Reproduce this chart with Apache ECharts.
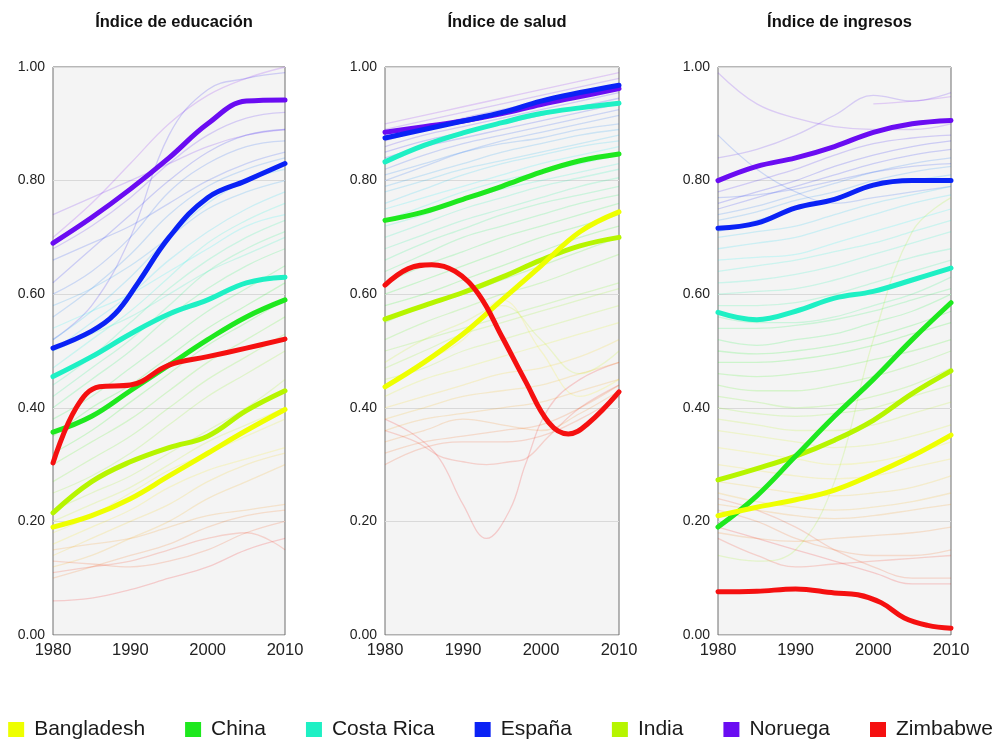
<!DOCTYPE html>
<html>
<head>
<meta charset="utf-8">
<script src="https://cdn.jsdelivr.net/npm/echarts@6/dist/echarts.min.js"></script>
<style>
  html, body { margin: 0; padding: 0; background: #ffffff; }
  #chart { width: 1001px; height: 743px; }
</style>
</head>
<body>
<div id="chart"></div>
<script>
// ---- Panel titles, countries, ticks ----
const panelTitles = ['Índice de educación', 'Índice de salud', 'Índice de ingresos'];
const countries = ['Bangladesh', 'China', 'Costa Rica', 'España', 'India', 'Noruega', 'Zimbabwe'];
const yearTicks = [1980, 1990, 2000, 2010];
const valueTicks = [0, 0.2, 0.4, 0.6, 0.8, 1];

// ---- Highlighted countries: [year, index] ----
// Education
const eduBangladesh = [[1980,0.19],[1985,0.21],[1990,0.24],[1995,0.28],[2000,0.32],[2005,0.36],[2010,0.397]];
const eduChina      = [[1980,0.357],[1985,0.385],[1990,0.43],[1995,0.475],[2000,0.52],[2005,0.56],[2010,0.59]];
const eduCostaRica  = [[1980,0.455],[1985,0.49],[1990,0.53],[1995,0.565],[2000,0.59],[2005,0.62],[2010,0.63]];
const eduEspana     = [[1980,0.505],[1985,0.535],[1988,0.565],[1991,0.62],[1995,0.70],[2000,0.77],[2005,0.80],[2010,0.83]];
const eduIndia      = [[1980,0.215],[1985,0.27],[1990,0.305],[1995,0.33],[2000,0.35],[2005,0.395],[2010,0.43]];
const eduNoruega    = [[1980,0.69],[1985,0.735],[1990,0.785],[1995,0.84],[2000,0.90],[2005,0.94],[2010,0.942]];
const eduZimbabwe   = [[1980,0.303],[1983,0.40],[1986,0.437],[1990,0.44],[1995,0.475],[2000,0.49],[2005,0.505],[2010,0.521]];

// Health
const saludBangladesh = [[1980,0.437],[1985,0.48],[1990,0.53],[1995,0.59],[2000,0.65],[2005,0.71],[2010,0.745]];
const saludChina      = [[1980,0.73],[1985,0.745],[1990,0.767],[1995,0.79],[2000,0.815],[2005,0.835],[2010,0.847]];
const saludCostaRica  = [[1980,0.833],[1985,0.862],[1990,0.884],[1995,0.902],[2000,0.918],[2005,0.928],[2010,0.936]];
const saludEspana     = [[1980,0.875],[1985,0.89],[1990,0.905],[1995,0.92],[2000,0.94],[2005,0.955],[2010,0.968]];
const saludIndia      = [[1980,0.556],[1985,0.58],[1990,0.603],[1995,0.63],[2000,0.66],[2005,0.685],[2010,0.70]];
const saludNoruega    = [[1980,0.885],[1985,0.895],[1990,0.905],[1995,0.918],[2000,0.934],[2005,0.948],[2010,0.962]];
const saludZimbabwe   = [[1980,0.616],[1983,0.645],[1986,0.652],[1989,0.64],[1992,0.60],[1995,0.525],[1998,0.447],[2001,0.374],[2003.5,0.354],[2006,0.372],[2010,0.428]];

// Income
const ingBangladesh = [[1980,0.21],[1985,0.225],[1990,0.238],[1995,0.255],[2000,0.283],[2005,0.315],[2010,0.352]];
const ingChina      = [[1980,0.19],[1985,0.245],[1990,0.315],[1995,0.385],[2000,0.45],[2005,0.52],[2010,0.585]];
const ingCostaRica  = [[1980,0.568],[1985,0.555],[1990,0.57],[1995,0.593],[2000,0.605],[2005,0.625],[2010,0.646]];
const ingEspana     = [[1980,0.716],[1985,0.725],[1990,0.752],[1995,0.767],[2000,0.792],[2005,0.80],[2010,0.80]];
const ingIndia      = [[1980,0.273],[1985,0.293],[1990,0.315],[1995,0.343],[2000,0.378],[2005,0.425],[2010,0.465]];
const ingNoruega    = [[1980,0.80],[1985,0.825],[1990,0.84],[1995,0.86],[2000,0.885],[2005,0.90],[2010,0.906]];
const ingZimbabwe   = [[1980,0.076],[1985,0.077],[1990,0.081],[1995,0.074],[1998,0.071],[2001,0.057],[2004,0.03],[2007,0.017],[2010,0.012]];

// ---- Other countries (faint lines), values at bgYears ----
const bgYears = [1980, 1985, 1990, 1995, 2000, 2005, 2010];

const eduOthers = [
  [0.70,0.76,0.83,0.90,0.95,0.98,1.00],
  [0.52,0.58,0.70,0.88,0.96,0.98,0.99],
  [0.68,0.72,0.77,0.83,0.88,0.91,0.92],
  [0.74,0.77,0.80,0.83,0.86,0.88,0.89],
  [0.62,0.68,0.74,0.80,0.85,0.88,0.89],
  [0.60,0.64,0.70,0.78,0.83,0.86,0.87],
  [0.66,0.69,0.72,0.76,0.80,0.83,0.85],
  [0.56,0.61,0.67,0.74,0.79,0.82,0.84],
  [0.52,0.57,0.63,0.70,0.76,0.80,0.82],
  [0.58,0.61,0.65,0.70,0.75,0.78,0.80],
  [0.50,0.55,0.60,0.66,0.71,0.75,0.78],
  [0.47,0.52,0.57,0.63,0.69,0.73,0.76],
  [0.54,0.57,0.60,0.64,0.68,0.72,0.74],
  [0.44,0.49,0.55,0.61,0.66,0.70,0.73],
  [0.42,0.47,0.52,0.58,0.64,0.68,0.71],
  [0.50,0.53,0.56,0.60,0.64,0.67,0.70],
  [0.40,0.45,0.50,0.56,0.61,0.65,0.68],
  [0.38,0.42,0.47,0.52,0.57,0.61,0.65],
  [0.35,0.40,0.44,0.49,0.54,0.58,0.62],
  [0.32,0.36,0.41,0.46,0.51,0.55,0.59],
  [0.30,0.34,0.38,0.43,0.48,0.52,0.56],
  [0.27,0.31,0.35,0.40,0.45,0.49,0.53],
  [0.25,0.28,0.32,0.37,0.42,0.46,0.50],
  [0.22,0.25,0.28,0.32,0.36,0.40,0.45],
  [0.20,0.23,0.26,0.30,0.34,0.37,0.40],
  [0.18,0.21,0.25,0.29,0.32,0.35,0.38],
  [0.16,0.19,0.22,0.26,0.29,0.31,0.33],
  [0.14,0.17,0.20,0.23,0.27,0.30,0.32],
  [0.12,0.14,0.17,0.20,0.24,0.27,0.30],
  [0.15,0.16,0.17,0.19,0.21,0.22,0.23],
  [0.10,0.12,0.14,0.16,0.19,0.21,0.22],
  [0.13,0.125,0.12,0.13,0.15,0.18,0.20],
  [0.06,0.065,0.08,0.10,0.12,0.15,0.17],
  [0.11,0.12,0.13,0.15,0.17,0.18,0.15]
];

const saludOthers = [
  [0.90,0.915,0.93,0.945,0.96,0.975,0.99],
  [0.89,0.905,0.92,0.935,0.95,0.965,0.98],
  [0.87,0.89,0.91,0.925,0.94,0.955,0.97],
  [0.86,0.88,0.895,0.91,0.925,0.94,0.955],
  [0.85,0.87,0.885,0.90,0.915,0.93,0.945],
  [0.84,0.86,0.875,0.89,0.905,0.92,0.935],
  [0.82,0.845,0.865,0.88,0.895,0.91,0.925],
  [0.80,0.825,0.85,0.87,0.885,0.90,0.915],
  [0.81,0.83,0.85,0.865,0.875,0.89,0.90],
  [0.79,0.81,0.83,0.85,0.865,0.88,0.89],
  [0.78,0.80,0.82,0.835,0.85,0.865,0.88],
  [0.76,0.785,0.81,0.83,0.845,0.86,0.87],
  [0.75,0.77,0.79,0.81,0.83,0.845,0.86],
  [0.73,0.755,0.78,0.80,0.815,0.83,0.845],
  [0.72,0.74,0.765,0.785,0.80,0.815,0.83],
  [0.70,0.725,0.75,0.77,0.79,0.805,0.82],
  [0.68,0.705,0.73,0.75,0.77,0.79,0.805],
  [0.66,0.69,0.715,0.74,0.76,0.775,0.79],
  [0.64,0.67,0.70,0.72,0.74,0.76,0.775],
  [0.62,0.65,0.675,0.70,0.72,0.74,0.76],
  [0.60,0.625,0.65,0.675,0.70,0.72,0.74],
  [0.58,0.60,0.625,0.65,0.675,0.70,0.72],
  [0.55,0.58,0.60,0.625,0.65,0.675,0.70],
  [0.52,0.55,0.575,0.60,0.62,0.645,0.67],
  [0.50,0.52,0.54,0.56,0.58,0.60,0.62],
  [0.47,0.50,0.53,0.55,0.57,0.59,0.61],
  [0.45,0.47,0.50,0.52,0.54,0.56,0.58],
  [0.48,0.52,0.55,0.58,0.52,0.46,0.50],
  [0.42,0.45,0.47,0.49,0.51,0.53,0.55],
  [0.44,0.48,0.52,0.59,0.50,0.42,0.45],
  [0.40,0.42,0.44,0.46,0.47,0.49,0.52],
  [0.38,0.40,0.42,0.43,0.44,0.46,0.48],
  [0.36,0.38,0.39,0.40,0.41,0.43,0.45],
  [0.34,0.36,0.38,0.37,0.36,0.39,0.43],
  [0.32,0.34,0.35,0.36,0.37,0.40,0.44],
  [0.30,0.33,0.34,0.34,0.35,0.38,0.42]
];
// two health series with a sharp dip around 1993
const saludDipYears = [1980, 1984, 1987, 1990, 1993, 1996, 1998, 2001, 2005, 2010];
const saludDipA = [0.38, 0.35, 0.31, 0.23, 0.17, 0.22, 0.30, 0.40, 0.45, 0.48];
const saludDipB = [0.36, 0.34, 0.315, 0.305, 0.30, 0.305, 0.31, 0.35, 0.40, 0.44];

const ingOthers = [
  [0.99,0.935,0.91,0.895,0.89,0.89,0.90],
  [0.84,0.855,0.88,0.915,0.95,0.94,0.955],
  [null,null,null,null,0.935,0.94,0.948],
  [0.88,0.82,0.78,0.76,0.77,0.78,0.79],
  [0.78,0.80,0.82,0.845,0.865,0.875,0.88],
  [0.76,0.78,0.80,0.825,0.845,0.86,0.87],
  [0.75,0.77,0.79,0.81,0.83,0.845,0.855],
  [0.74,0.755,0.775,0.795,0.815,0.83,0.84],
  [0.77,0.775,0.785,0.80,0.815,0.825,0.83],
  [0.73,0.745,0.765,0.78,0.80,0.815,0.825],
  [0.71,0.73,0.75,0.77,0.79,0.80,0.81],
  [0.70,0.71,0.72,0.74,0.76,0.775,0.79],
  [0.68,0.69,0.70,0.72,0.74,0.76,0.775],
  [0.66,0.665,0.67,0.69,0.71,0.73,0.75],
  [0.64,0.65,0.66,0.675,0.69,0.71,0.73],
  [0.62,0.625,0.635,0.65,0.67,0.69,0.71],
  [0.60,0.605,0.61,0.625,0.645,0.665,0.68],
  [0.58,0.58,0.585,0.60,0.62,0.64,0.66],
  [0.56,0.55,0.55,0.56,0.58,0.60,0.63],
  [0.54,0.54,0.545,0.555,0.57,0.59,0.61],
  [0.52,0.51,0.52,0.53,0.55,0.57,0.60],
  [0.50,0.495,0.50,0.51,0.525,0.545,0.57],
  [0.48,0.48,0.485,0.495,0.51,0.53,0.55],
  [0.46,0.455,0.46,0.47,0.485,0.50,0.52],
  [0.44,0.43,0.43,0.44,0.455,0.475,0.50],
  [0.42,0.41,0.40,0.405,0.42,0.44,0.47],
  [0.40,0.39,0.385,0.39,0.40,0.42,0.44],
  [0.38,0.37,0.36,0.36,0.37,0.39,0.41],
  [0.36,0.35,0.34,0.33,0.335,0.35,0.37],
  [0.33,0.32,0.31,0.30,0.305,0.32,0.34],
  [0.30,0.29,0.28,0.275,0.28,0.295,0.31],
  [0.27,0.26,0.25,0.245,0.25,0.26,0.28],
  [0.25,0.235,0.225,0.22,0.225,0.235,0.25],
  [0.23,0.22,0.21,0.205,0.21,0.22,0.23],
  [0.22,0.20,0.17,0.15,0.14,0.14,0.15],
  [0.18,0.17,0.165,0.17,0.175,0.18,0.19],
  [0.17,0.14,0.12,0.125,0.13,0.135,0.14],
  [0.24,0.22,0.19,0.15,0.12,0.10,0.10],
  [0.19,0.17,0.15,0.13,0.11,0.09,0.09],
  [0.14,0.13,0.15,0.27,0.52,0.71,0.77]
];

// ---- Styling ----
const countryColors = ['#eeff00', '#1ee81e', '#1ef0c4', '#0a22f5', '#b6f500', '#6a0cf2', '#f51010'];
const drawOrder = [5, 3, 2, 4, 1, 0, 6];   // Zimbabwe on top, Noruega below España
const plainFont = "'Liberation Sans', Arial, sans-serif";

const panels = [
  { lines: [eduBangladesh, eduChina, eduCostaRica, eduEspana, eduIndia, eduNoruega, eduZimbabwe],
    others: eduOthers.map(v => v.map((y, i) => [bgYears[i], y])) },
  { lines: [saludBangladesh, saludChina, saludCostaRica, saludEspana, saludIndia, saludNoruega, saludZimbabwe],
    others: saludOthers.map(v => v.map((y, i) => [bgYears[i], y]))
      .concat([saludDipA, saludDipB].map(v => v.map((y, i) => [saludDipYears[i], y]))) },
  { lines: [ingBangladesh, ingChina, ingCostaRica, ingEspana, ingIndia, ingNoruega, ingZimbabwe],
    others: ingOthers.map(v => v.map((y, i) => [bgYears[i], y])) }
];

const gridBoxes = [
  { left: 53, width: 232 },
  { left: 385, width: 234 },
  { left: 718, width: 233 }
];

// colour of a faint line: hue runs red -> violet with the line's rank in its panel
function mean(line) {
  const vals = line.map(p => p[1]).filter(v => v !== null);
  return vals.reduce((a, b) => a + b, 0) / vals.length;
}
function rankColors(lines) {
  const order = lines.map((l, i) => [mean(l), i]).sort((a, b) => a[0] - b[0]);
  const cols = new Array(lines.length);
  order.forEach((o, r) => {
    const h = 270 * r / (lines.length - 1);
    cols[o[1]] = 'hsla(' + h.toFixed(0) + ',100%,48%,0.17)';
  });
  return cols;
}

const grid = [], xAxis = [], yAxis = [], title = [], series = [];

panels.forEach((p, k) => {
  const box = gridBoxes[k];
  grid.push({
    left: box.left, width: box.width, top: 67, height: 568,
    show: true, backgroundColor: '#f4f4f4', borderColor: '#6e6e6e', borderWidth: 1
  });
  title.push({
    text: panelTitles[k],
    left: box.left + box.width / 2, top: 9, textAlign: 'center',
    textStyle: { fontFamily: plainFont, fontSize: 16.5, fontWeight: 'bold', color: '#111' }
  });
  xAxis.push({
    type: 'value', gridIndex: k, min: yearTicks[0], max: yearTicks[yearTicks.length - 1], interval: 10,
    axisLine: { show: false }, axisTick: { show: false }, splitLine: { show: false },
    axisLabel: { fontFamily: plainFont, fontSize: 16.5, color: '#222', margin: 7,
      formatter: v => String(v) }
  });
  yAxis.push({
    type: 'value', gridIndex: k, min: valueTicks[0], max: valueTicks[valueTicks.length - 1], interval: 0.2,
    axisLine: { show: false }, axisTick: { show: false },
    splitLine: { show: true, lineStyle: { color: '#d9d9d9', width: 1 } },
    axisLabel: { fontFamily: plainFont, fontSize: 14, color: '#222', margin: 8,
      formatter: v => v.toFixed(2) }
  });

  const cols = rankColors(p.others);
  p.others.forEach((line, i) => {
    series.push({
      type: 'line', xAxisIndex: k, yAxisIndex: k, data: line,
      smooth: 0.4, showSymbol: false, symbol: 'none', silent: true,
      connectNulls: false,
      lineStyle: { color: cols[i], width: 1.3 },
      emphasis: { disabled: true }
    });
  });

  drawOrder.forEach(ci => {
    series.push({
      name: countries[ci], type: 'line', xAxisIndex: k, yAxisIndex: k, data: p.lines[ci],
      smooth: 0.4, showSymbol: false, symbol: 'none', silent: true,
      color: countryColors[ci],
      itemStyle: { color: countryColors[ci] },
      lineStyle: { color: countryColors[ci], width: 5, cap: 'round', join: 'round' },
      emphasis: { disabled: true }
    });
  });
});

const chart = echarts.init(document.getElementById('chart'), null, { renderer: 'canvas' });
chart.setOption({
  backgroundColor: '#ffffff',
  animation: false,
  title: title,
  grid: grid,
  xAxis: xAxis,
  yAxis: yAxis,
  legend: {
    data: countries,
    left: 'center', top: 714,
    icon: 'rect', itemWidth: 16, itemHeight: 15, itemGap: 40,
    itemStyle: { borderWidth: 0 },
    selectedMode: false,
    textStyle: { fontFamily: plainFont, fontSize: 21, color: '#1a1a1a', padding: [0, 0, 0, 5] }
  },
  series: series
});
</script>
</body>
</html>
